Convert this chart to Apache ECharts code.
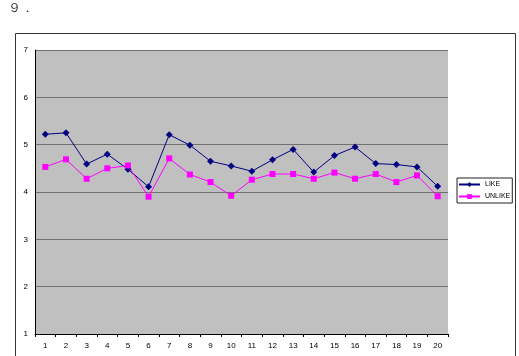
<!DOCTYPE html>
<html>
<head>
<meta charset="utf-8">
<script src="https://cdn.jsdelivr.net/npm/echarts@6/dist/echarts.min.js"></script>
<style>
  html, body { margin: 0; padding: 0; background: #fff; }
  #main { width: 519px; height: 356px; }
</style>
</head>
<body>
<div id="main"></div>
<script>
var categories = ['1','2','3','4','5','6','7','8','9','10','11','12','13','14','15','16','17','18','19','20'];
var likeValues = [5.22, 5.25, 4.59, 4.80, 4.48, 4.11, 5.21, 4.99, 4.65, 4.55, 4.44, 4.68, 4.90, 4.42, 4.77, 4.95, 4.60, 4.58, 4.53, 4.12];
var unlikeValues = [4.53, 4.69, 4.28, 4.50, 4.56, 3.90, 4.71, 4.37, 4.21, 3.92, 4.26, 4.38, 4.38, 4.28, 4.41, 4.28, 4.38, 4.21, 4.35, 3.91];
var seriesNames = ['LIKE', 'UNLIKE'];

var chartDom = document.getElementById('main');
var myChart = echarts.init(chartDom);
var option;

option = {
    animation: false,
    textStyle: { fontFamily: 'Liberation Sans, Arial, sans-serif' },
    graphic: [
        {
            type: 'rect',
            shape: { x: 15.5, y: 33.5, width: 500, height: 340 },
            style: { fill: 'none', stroke: '#333', lineWidth: 1 },
            silent: true
        },
        {
            type: 'text',
            left: 8,
            top: 2,
            style: { text: '９．', fill: '#333', font: '13px "Liberation Serif", serif' }
        }
    ],
    grid: {
        left: 35,
        right: 71,
        top: 50,
        bottom: 22,
        show: true,
        backgroundColor: '#c0c0c0',
        borderWidth: 0
    },
    legend: {
        data: seriesNames,
        orient: 'vertical',
        left: 457,
        top: 178,
        itemWidth: 21,
        itemHeight: 6,
        itemGap: 5,
        padding: [3, 2, 3, 1],
        borderColor: '#222',
        borderWidth: 1,
        borderRadius: 0,
        textStyle: { fontSize: 7, color: '#000' }
    },
    xAxis: {
        type: 'category',
        data: categories,
        boundaryGap: true,
        axisLine: { lineStyle: { color: '#000', width: 1 } },
        axisTick: { show: true, length: 3, lineStyle: { color: '#000' } },
        axisLabel: { fontSize: 8, color: '#000', margin: 8 },
        splitLine: { show: false }
    },
    yAxis: {
        type: 'value',
        min: 1,
        max: 7,
        interval: 1,
        axisLine: { show: true, lineStyle: { color: '#000', width: 1 } },
        axisTick: { show: false },
        axisLabel: { fontSize: 8, color: '#000', margin: 7 },
        splitLine: { show: true, lineStyle: { color: '#707070', width: 1 } }
    },
    series: [
        {
            name: seriesNames[0],
            type: 'line',
            data: likeValues,
            symbol: 'diamond',
            symbolSize: 7,
            itemStyle: { color: '#000080' },
            lineStyle: { color: '#000080', width: 1 }
        },
        {
            name: seriesNames[1],
            type: 'line',
            data: unlikeValues,
            symbol: 'rect',
            symbolSize: 6,
            itemStyle: { color: '#ff00ff' },
            lineStyle: { color: '#ff00ff', width: 1 }
        }
    ]
};

myChart.setOption(option);
</script>
</body>
</html>
